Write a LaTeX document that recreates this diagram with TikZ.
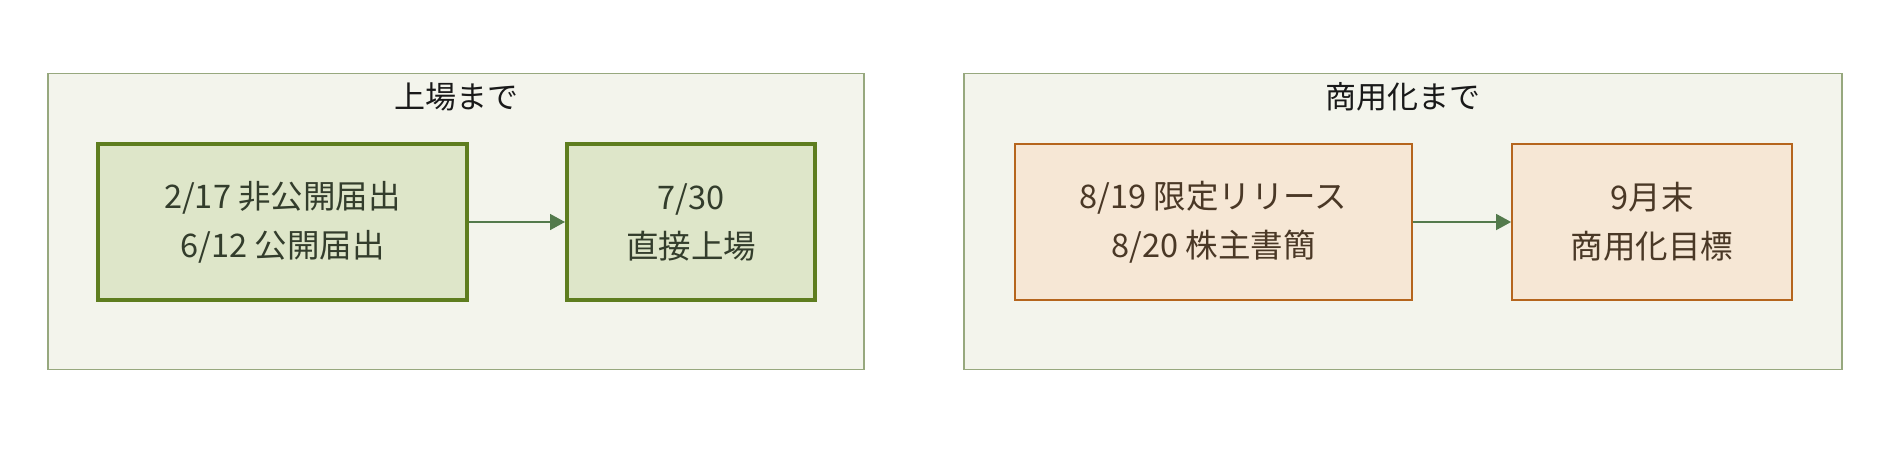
\documentclass[tikz,border=0pt]{standalone}
\usepackage{fontspec}
\setmainfont{Noto Sans CJK JP}
\usetikzlibrary{arrows.meta}
\definecolor{contfill}{HTML}{F3F4EC}
\definecolor{contline}{HTML}{97A87E}
\definecolor{gfill}{HTML}{DEE6C9}
\definecolor{gline}{HTML}{5E7D1F}
\definecolor{gtext}{HTML}{333D2C}
\definecolor{ofill}{HTML}{F6E7D5}
\definecolor{oline}{HTML}{B5651D}
\definecolor{otext}{HTML}{4A3826}
\definecolor{arrowc}{HTML}{537A4C}
\begin{document}
\begin{tikzpicture}[x=1pt,y=-1pt,
  container/.style={draw=contline, fill=contfill, line width=1.5pt, minimum width=#1, minimum height=296pt, inner sep=0pt},
  titletext/.style={font=\fontsize{31}{36}\selectfont, text=black!90, inner sep=0pt},
  gbox/.style={draw=gline, fill=gfill, line width=4pt, text=gtext, minimum width=#1, minimum height=156pt, align=center, inner sep=0pt, font=\fontsize{32.5}{49}\selectfont},
  obox/.style={draw=oline, fill=ofill, line width=1.8pt, text=otext, minimum width=#1, minimum height=156pt, align=center, inner sep=0pt, font=\fontsize{32.5}{49}\selectfont},
  flow/.style={draw=arrowc, line width=1.6pt, -{Triangle[length=15pt,width=16pt]}}
]
\useasboundingbox[fill=white] (0,0) rectangle (1890,448);
\node[container=816pt] (c1) at (456,221.6) {};
\node[container=878pt] (c2) at (1403,221.6) {};
\node[titletext] (t1) at (456,96.5) {上場まで};
\node[titletext] (t2) at (1403,96.5) {商用化まで};
\node[gbox=369pt] (a) at (282.5,222) {2/17 非公開届出\\6/12 公開届出};
\node[gbox=248pt] (b) at (691,222) {7/30\\直接上場};
\node[obox=397pt] (c) at (1213.5,222) {8/19 限定リリース\\8/20 株主書簡};
\node[obox=280pt] (d) at (1652,222) {9月末\\商用化目標};
\draw[flow] (a) -- (b);
\draw[flow] (c) -- (d);
\end{tikzpicture}
\end{document}
